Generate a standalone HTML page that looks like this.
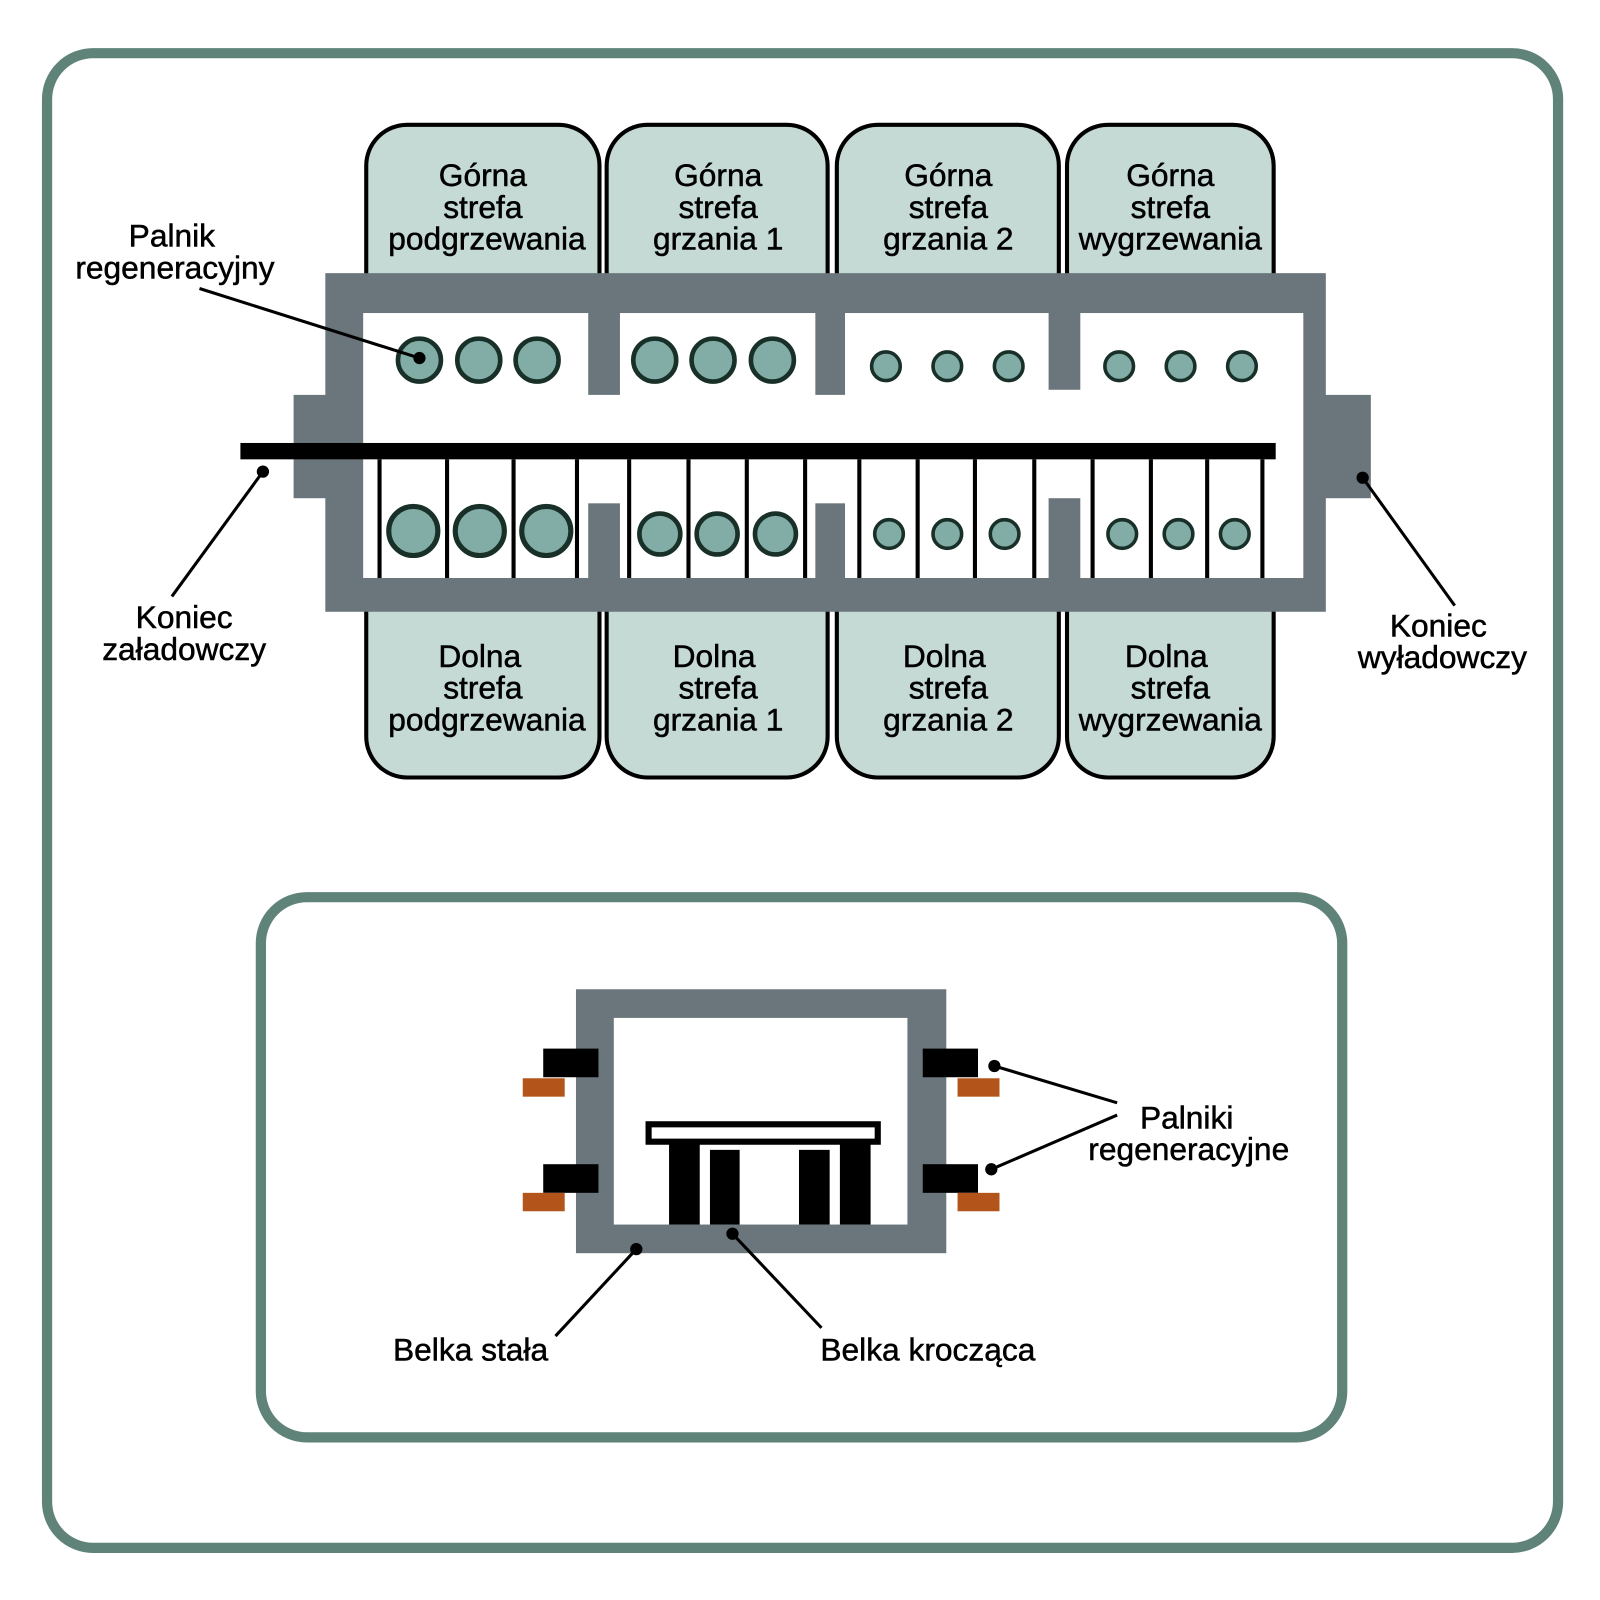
<!DOCTYPE html>
<html><head><meta charset="utf-8"><style>html,body{margin:0;padding:0;background:#fff}svg{display:block}text{font-family:"Liberation Sans",sans-serif;font-size:31px;fill:#000;text-anchor:middle;stroke:#000;stroke-width:0.5px}</style></head>
<body>
<svg width="1600" height="1600" viewBox="0 0 1564 1564" xmlns="http://www.w3.org/2000/svg">
<rect x="46" y="52" width="1477" height="1461" rx="45" fill="#fff" stroke="#5f8279" stroke-width="10"/>
<g fill="#c5d9d5" stroke="#000" stroke-width="4">
<path d="M358 290 V162 a40 40 0 0 1 40 -40 H546 a40 40 0 0 1 40 40 V290"/>
<path d="M593 290 V162 a40 40 0 0 1 40 -40 H769 a40 40 0 0 1 40 40 V290"/>
<path d="M818 290 V162 a40 40 0 0 1 40 -40 H995 a40 40 0 0 1 40 40 V290"/>
<path d="M1043 290 V162 a40 40 0 0 1 40 -40 H1205 a40 40 0 0 1 40 40 V290"/>
<path d="M358 580 V720 a40 40 0 0 0 40 40 H546 a40 40 0 0 0 40 -40 V580"/>
<path d="M593 580 V720 a40 40 0 0 0 40 40 H769 a40 40 0 0 0 40 -40 V580"/>
<path d="M818 580 V720 a40 40 0 0 0 40 40 H995 a40 40 0 0 0 40 -40 V580"/>
<path d="M1043 580 V720 a40 40 0 0 0 40 40 H1205 a40 40 0 0 0 40 -40 V580"/>
</g>
<g fill="#6a767c">
<rect x="318" y="267" width="978" height="331"/>
<rect x="287" y="386" width="40" height="101"/>
<rect x="1290" y="386" width="50" height="101"/>
</g>
<rect x="355" y="306" width="919" height="259" fill="#fff"/>
<g fill="#6a767c">
<rect x="575" y="300" width="31" height="86"/>
<rect x="797" y="300" width="29" height="86"/>
<rect x="1025" y="300" width="31" height="81"/>
<rect x="575" y="492" width="31" height="80"/>
<rect x="797" y="492" width="29" height="80"/>
<rect x="1025" y="487" width="31" height="85"/>
</g>
<rect x="235" y="433" width="1012" height="16" fill="#000"/>
<g stroke="#000" stroke-width="4">
<line x1="371" y1="449" x2="371" y2="565"/><line x1="437" y1="449" x2="437" y2="565"/><line x1="502" y1="449" x2="502" y2="565"/><line x1="564" y1="449" x2="564" y2="565"/>
<line x1="615" y1="449" x2="615" y2="565"/><line x1="673" y1="449" x2="673" y2="565"/><line x1="730" y1="449" x2="730" y2="565"/><line x1="787" y1="449" x2="787" y2="565"/>
<line x1="840" y1="449" x2="840" y2="565"/><line x1="897" y1="449" x2="897" y2="565"/><line x1="953" y1="449" x2="953" y2="565"/><line x1="1011" y1="449" x2="1011" y2="565"/>
<line x1="1068" y1="449" x2="1068" y2="565"/><line x1="1125" y1="449" x2="1125" y2="565"/><line x1="1180" y1="449" x2="1180" y2="565"/><line x1="1234" y1="449" x2="1234" y2="565"/>
</g>
<g fill="#82ada6" stroke="#183028" stroke-width="4.5">
<circle cx="410" cy="352" r="21"/><circle cx="468" cy="352" r="21"/><circle cx="525" cy="352" r="21"/>
<circle cx="640" cy="352" r="21"/><circle cx="697" cy="352" r="21"/><circle cx="755" cy="352" r="21"/>
<g stroke-width="3.5"><circle cx="866" cy="358" r="14"/><circle cx="926" cy="358" r="14"/><circle cx="986" cy="358" r="14"/>
<circle cx="1094" cy="358" r="14"/><circle cx="1154" cy="358" r="14"/><circle cx="1214" cy="358" r="14"/></g>
<g stroke-width="5"><circle cx="404" cy="519" r="24"/><circle cx="469" cy="519" r="24"/><circle cx="534" cy="519" r="24"/></g>
<circle cx="645" cy="522" r="20"/><circle cx="701" cy="522" r="20"/><circle cx="758" cy="522" r="20"/>
<g stroke-width="3.5"><circle cx="869" cy="522" r="14"/><circle cx="926" cy="522" r="14"/><circle cx="982" cy="522" r="14"/>
<circle cx="1097" cy="522" r="14"/><circle cx="1152" cy="522" r="14"/><circle cx="1207" cy="522" r="14"/></g>
</g>
<g stroke="#000" stroke-width="3">
<line x1="195" y1="282" x2="410" y2="350"/>
<line x1="168" y1="583" x2="257" y2="461"/>
<line x1="1422" y1="592" x2="1332" y2="467"/>
</g>
<circle cx="410" cy="350" r="6" fill="#000"/>
<circle cx="257" cy="461" r="6" fill="#000"/>
<circle cx="1332" cy="467" r="6" fill="#000"/>
<text x="472" y="182">Górna</text><text x="472" y="213">strefa</text><text x="476" y="244">podgrzewania</text>
<text x="702" y="182">Górna</text><text x="702" y="213">strefa</text><text x="702" y="244">grzania 1</text>
<text x="927" y="182">Górna</text><text x="927" y="213">strefa</text><text x="927" y="244">grzania 2</text>
<text x="1144" y="182">Górna</text><text x="1144" y="213">strefa</text><text x="1144" y="244">wygrzewania</text>
<text x="469" y="652">Dolna</text><text x="472" y="683">strefa</text><text x="476" y="714">podgrzewania</text>
<text x="698" y="652">Dolna</text><text x="702" y="683">strefa</text><text x="702" y="714">grzania 1</text>
<text x="923" y="652">Dolna</text><text x="927" y="683">strefa</text><text x="927" y="714">grzania 2</text>
<text x="1140" y="652">Dolna</text><text x="1144" y="683">strefa</text><text x="1144" y="714">wygrzewania</text>
<text x="168" y="241">Palnik</text><text x="171" y="272">regeneracyjny</text>
<text x="180" y="614">Koniec</text><text x="180" y="645">załadowczy</text>
<text x="1406" y="622">Koniec</text><text x="1410" y="653">wyładowczy</text>
<rect x="255" y="877" width="1057" height="528" rx="45" fill="#fff" stroke="#5f8279" stroke-width="10"/>
<rect x="563" y="967" width="362" height="258" fill="#6a767c"/>
<rect x="600" y="995" width="287" height="202" fill="#fff"/>
<g fill="#000">
<rect x="531" y="1025" width="54" height="28"/><rect x="531" y="1138" width="54" height="28"/>
<rect x="902" y="1025" width="54" height="28"/><rect x="902" y="1138" width="54" height="28"/>
</g>
<g fill="#b3551a">
<rect x="511" y="1054" width="41" height="18"/><rect x="511" y="1166" width="41" height="18"/>
<rect x="936" y="1054" width="41" height="18"/><rect x="936" y="1166" width="41" height="18"/>
</g>
<rect x="634" y="1099" width="224" height="17" fill="#fff" stroke="#000" stroke-width="6"/>
<g fill="#000">
<rect x="654" y="1117" width="30" height="80"/><rect x="694" y="1124" width="29" height="73"/>
<rect x="781" y="1124" width="30" height="73"/><rect x="821" y="1117" width="30" height="80"/>
</g>
<g stroke="#000" stroke-width="3">
<line x1="972" y1="1042" x2="1092" y2="1078"/>
<line x1="969" y1="1143" x2="1092" y2="1090"/>
<line x1="622" y1="1221" x2="543" y2="1306"/>
<line x1="716" y1="1206" x2="803" y2="1298"/>
</g>
<circle cx="972" cy="1042" r="6" fill="#000"/><circle cx="969" cy="1143" r="6" fill="#000"/>
<circle cx="622" cy="1221" r="6" fill="#000"/><circle cx="716" cy="1206" r="6" fill="#000"/>
<text x="1160" y="1103">Palniki</text><text x="1162" y="1134">regeneracyjne</text>
<text x="460" y="1330">Belka stała</text>
<text x="907" y="1330">Belka krocząca</text>
</svg>
</body></html>
